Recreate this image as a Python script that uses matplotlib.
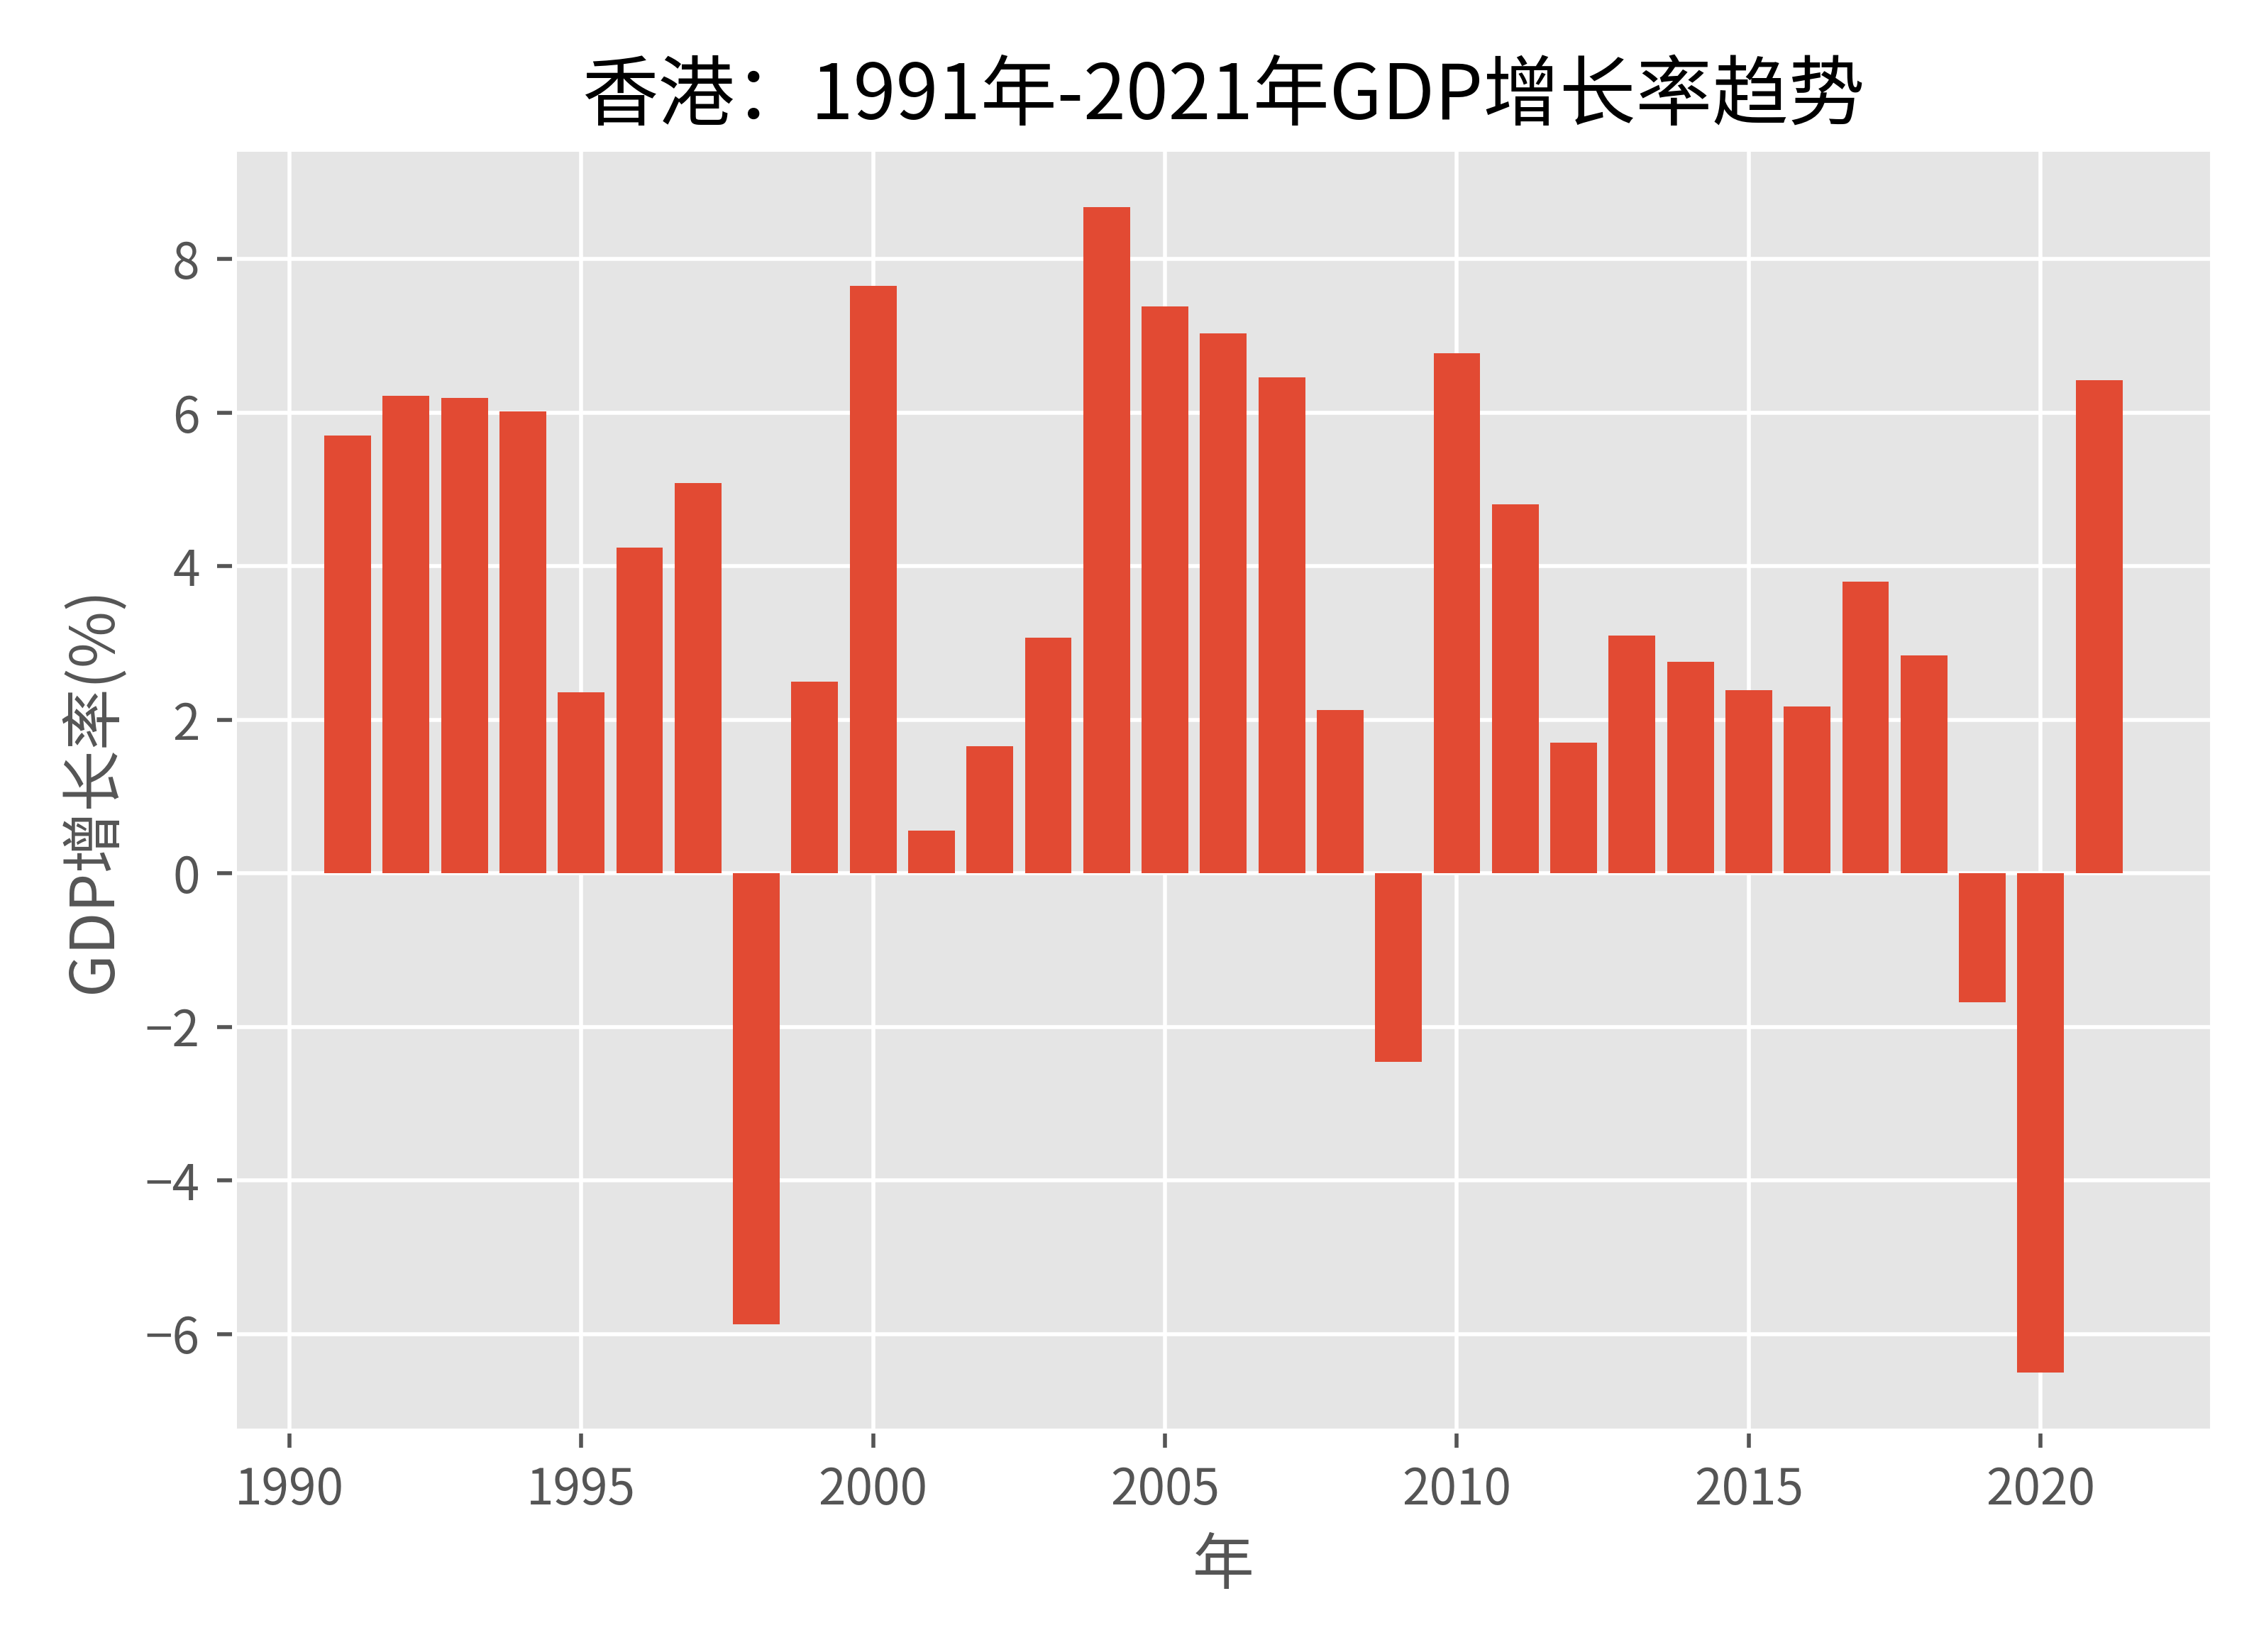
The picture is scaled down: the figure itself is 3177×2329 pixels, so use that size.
import matplotlib
matplotlib.use("Agg")
import matplotlib.pyplot as plt

plt.style.use("ggplot")
plt.rcParams['font.family'] = ['Noto Sans CJK SC', 'DejaVu Sans']
plt.rcParams['axes.unicode_minus'] = True

years = list(range(1991, 2022))
growth = [5.70, 6.22, 6.19, 6.02, 2.36, 4.24, 5.08, -5.87, 2.50, 7.65,
          0.56, 1.66, 3.07, 8.68, 7.38, 7.03, 6.46, 2.13, -2.46, 6.77,
          4.81, 1.70, 3.10, 2.76, 2.39, 2.17, 3.80, 2.84, -1.68, -6.50, 6.42]

fig = plt.figure(figsize=(6.354, 4.658), dpi=500)
ax = fig.add_axes([0.1040, 0.134, 0.8775, 0.776])
ax.bar(years, growth)
ax.set_title("香港：1991年-2021年GDP增长率趋势", fontsize=15.5)
ax.set_xlabel("年", fontsize=12.5)
ax.set_ylabel("GDP增长率(%)", fontsize=12.5)
fig.savefig("out.png", dpi=500)
